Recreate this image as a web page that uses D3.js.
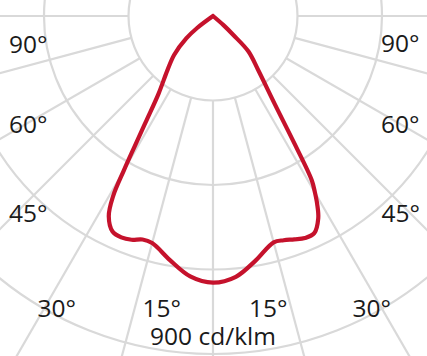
<!DOCTYPE html>
<html lang="en">
  <head>
    <meta charset="utf-8" />
    <title>Light distribution curve</title>
    <script src="https://cdn.jsdelivr.net/npm/d3@7"></script>
    <style type="text/css">
      body {
        margin: 0;
        background: #ffffff;
      }

      text {
        font-family: "Open Sans", sans-serif;
        font-size: 24.5px;
        fill: #1a1a1a;
      }

      .grid {
        fill: none;
        stroke: #d9d9d9;
        stroke-width: 2.2;
      }

      .curve {
        fill: none;
        stroke: #c5122c;
        stroke-width: 4.2;
        stroke-linejoin: round;
        stroke-linecap: round;
      }
    </style>
  </head>
  <body>
    <script type="text/javascript">
      const w = 427;
      const h = 356;

      // Define Data (gamma in degrees from nadir, intensity in cd/klm)
      const rightAngles = [0, 5, 10, 15, 17.5, 20, 22.5, 25, 27.5, 29, 30, 31, 32.5, 35, 40, 45, 47, 49, 51];
      const rightValues = [710, 697, 660, 624, 626, 633, 640, 638, 607, 572, 543, 511, 407, 288, 186, 133, 75, 37, 0];
      const leftAngles = [0, 5, 10, 15, 17.5, 20, 22.5, 25, 27.5, 29, 30, 31, 32.5, 35, 40, 45, 50, 53, 55];
      const leftValues = [710, 696, 660, 626, 624, 634, 638, 633, 601, 549, 474, 405, 330, 253, 189, 146, 93, 53, 0];

      // Grid rings and spokes
      const ringValues = [225, 450, 675, 900];
      const spokeAngles = d3.range(0, 360, 15);

      // Labels
      const angleLabels = ["90°", "60°", "45°", "30°", "15°", "15°", "30°", "45°", "60°", "90°"];
      const unitLabel = "900 cd/klm";

      // Layout
      const cx = 213;
      const cy = 16;
      const labelPos = [
        [9, 52.5], [9, 133.3], [9, 221.7], [37.5, 316.7], [142.5, 316.7],
        [249, 316.7], [352.5, 316.7], [381.5, 221.7], [381, 133.3], [381, 52]
      ];

      const r = d3.scaleLinear().domain([0, 900]).range([0, 338]);
      const rad = (deg) => (deg * Math.PI) / 180;

      // Create SVG
      const svg = d3
        .select("body")
        .append("svg")
        .attr("width", w)
        .attr("height", h);

      const g = svg.append("g").attr("transform", "translate(" + cx + "," + cy + ")");

      // Spokes start at the first ring
      g.selectAll("line.spoke")
        .data(spokeAngles)
        .enter()
        .append("line")
        .attr("class", "grid")
        .attr("x1", (d) => r(ringValues[0]) * Math.sin(rad(d)))
        .attr("y1", (d) => r(ringValues[0]) * Math.cos(rad(d)))
        .attr("x2", (d) => 600 * Math.sin(rad(d)))
        .attr("y2", (d) => 600 * Math.cos(rad(d)));

      g.selectAll("circle.ring")
        .data(ringValues)
        .enter()
        .append("circle")
        .attr("class", "grid")
        .attr("r", (d) => r(d));

      // Curve: right half from the tip down to nadir, then left half back up
      const pts = [];
      for (let i = rightAngles.length - 1; i >= 0; i--) {
        pts.push({ a: Math.PI - rad(rightAngles[i]), v: rightValues[i] });
      }
      for (let i = 1; i < leftAngles.length; i++) {
        pts.push({ a: Math.PI + rad(leftAngles[i]), v: leftValues[i] });
      }

      const line = d3
        .lineRadial()
        .angle((d) => d.a)
        .radius((d) => r(d.v))
        .curve(d3.curveCatmullRom.alpha(0.5));

      g.append("path").attr("class", "curve").attr("d", line(pts));

      // Angle labels
      svg
        .selectAll("text.angle")
        .data(angleLabels)
        .enter()
        .append("text")
        .attr("class", "angle")
        .attr("x", (d, i) => labelPos[i][0])
        .attr("y", (d, i) => labelPos[i][1])
        .text((d) => d);

      svg
        .append("text")
        .attr("x", cx)
        .attr("y", 345)
        .attr("text-anchor", "middle")
        .text(unitLabel);
    </script>
  </body>
</html>
